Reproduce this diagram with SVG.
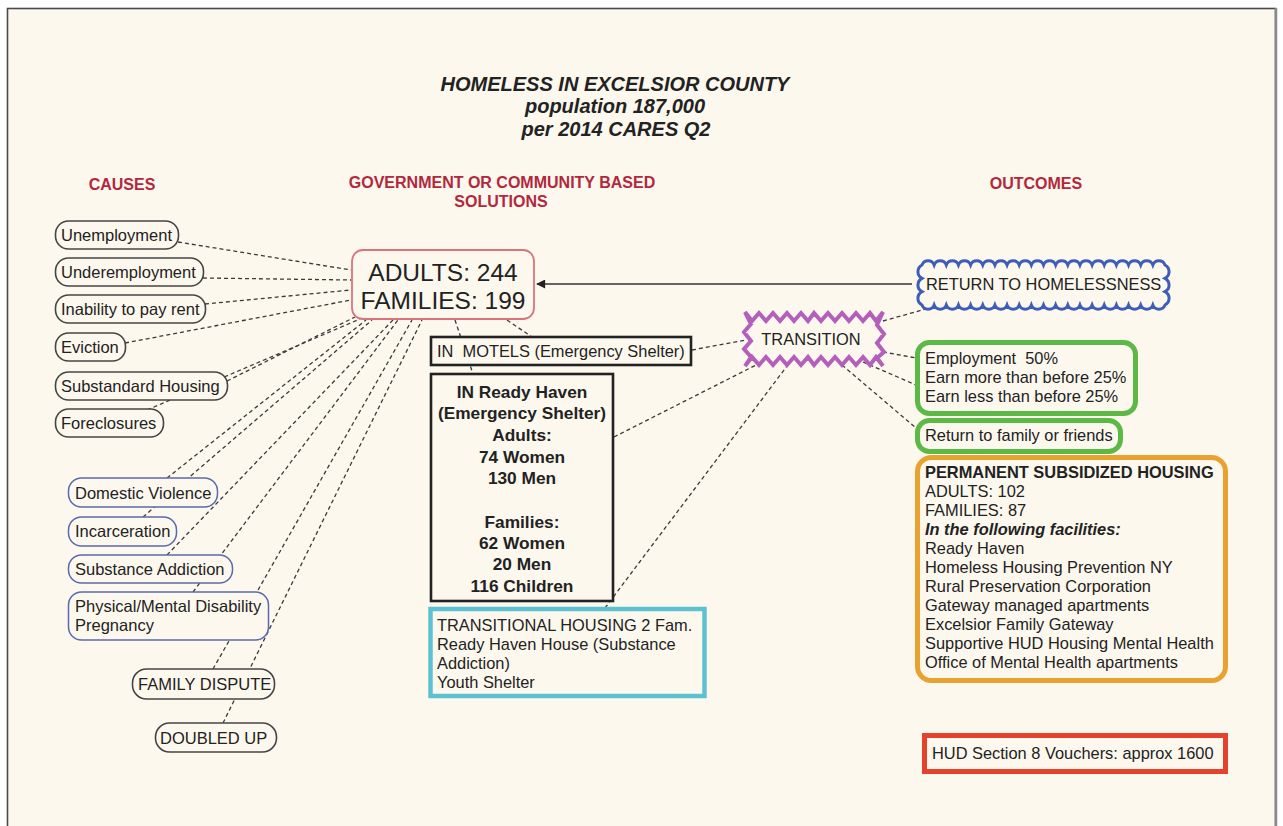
<svg xmlns="http://www.w3.org/2000/svg" width="1283" height="826" viewBox="0 0 1283 826">
  <style>
    text { font-family: "Liberation Sans", Arial, sans-serif; fill: #222; white-space: pre; }
    .title { font-size: 20px; font-weight: bold; font-style: italic; text-anchor: middle; }
    .head { font-size: 16px; font-weight: bold; fill: #b3273d; text-anchor: middle; }
    .cause { font-size: 16.5px; }
    .body { font-size: 16.4px; }
    .bold { font-weight: bold; }
    .mid { text-anchor: middle; }
    .pill { fill: #fdf8ee; stroke: #454545; stroke-width: 1.6; }
    .pill-blue { fill: #fdf8ee; stroke: #5a6aae; stroke-width: 1.5; }
    .blk { fill: #fdf8ee; stroke: #222; stroke-width: 2.6; }
    .dash { fill: none; stroke: #3a3a3a; stroke-width: 1.3; stroke-dasharray: 4 3; }
  </style>
  <defs>
    <marker id="arrow" viewBox="0 0 10 10" refX="9" refY="5" markerWidth="11" markerHeight="9" markerUnits="userSpaceOnUse" orient="auto">
      <path d="M0,0 L10,5 L0,10 z" fill="#222"/>
    </marker>
  </defs>

  <!-- page -->
  <rect x="0" y="0" width="1283" height="826" fill="#ffffff"/>
  <rect x="7.5" y="8.5" width="1268" height="840" fill="#fdf8ee" stroke="#4a4a4a" stroke-width="1.6"/>
  <line x1="1276" y1="8" x2="1276" y2="826" stroke="#8a8a8a" stroke-width="2.5"/>

  <!-- headings -->
  <g id="title">
    <text class="title" x="615" y="91">HOMELESS IN EXCELSIOR COUNTY</text>
    <text class="title" x="615" y="113">population 187,000</text>
    <text class="title" x="616" y="136">per 2014 CARES Q2</text>
  </g>
  <g id="headings">
    <text class="head" x="122" y="190">CAUSES</text>
    <text class="head" x="502" y="188">GOVERNMENT OR COMMUNITY BASED</text>
    <text class="head" x="501" y="207">SOLUTIONS</text>
    <text class="head" x="1036" y="189">OUTCOMES</text>
  </g>

  <!-- connectors -->
  <g id="connectors">
    <path class="dash" d="M178,242 L351,270"/>
    <path class="dash" d="M203,278 L351,280"/>
    <path class="dash" d="M205,304 L351,290"/>
    <path class="dash" d="M125,343 L351,300"/>
    <path class="dash" d="M227,381 L355,317"/>
    <path class="dash" d="M147,410 L360,319"/>
    <path class="dash" d="M167,478 L366,320"/>
    <path class="dash" d="M143,517 L372,320"/>
    <path class="dash" d="M167,555 L393,320"/>
    <path class="dash" d="M193,592 L398,320"/>
    <path class="dash" d="M213,669 L412,320"/>
    <path class="dash" d="M223,723 L422,320"/>
    <path class="dash" d="M455,320 L473,374"/>
    <path class="dash" d="M507,320 L532,337"/>
    <path class="dash" d="M692,350 L746,340"/>
    <path class="dash" d="M614,437 L760,363"/>
    <path class="dash" d="M605,608 L790,362"/>
    <path class="dash" d="M883,321 L933,307"/>
    <path class="dash" d="M883,352 L916,358"/>
    <path class="dash" d="M863,362 L916,385"/>
    <path class="dash" d="M842,365 L916,428"/>
    <path d="M912,284 L537,284" fill="none" stroke="#333" stroke-width="1.5" marker-end="url(#arrow)"/>
  </g>

  <!-- causes -->
  <g id="n-unemployment">
    <rect class="pill" x="55.5" y="221" width="123" height="28" rx="13"/>
    <text class="cause" x="61" y="241">Unemployment</text>
  </g>
  <g id="n-underemployment">
    <rect class="pill" x="55.5" y="258" width="148" height="28" rx="13"/>
    <text class="cause" x="61" y="278">Underemployment</text>
  </g>
  <g id="n-inability">
    <rect class="pill" x="55.5" y="295" width="150" height="28" rx="13"/>
    <text class="cause" x="61" y="315">Inability to pay rent</text>
  </g>
  <g id="n-eviction">
    <rect class="pill" x="55.5" y="333" width="70" height="28" rx="13"/>
    <text class="cause" x="61" y="353">Eviction</text>
  </g>
  <g id="n-substandard">
    <rect class="pill" x="55.5" y="372" width="172" height="28" rx="13"/>
    <text class="cause" x="61" y="392">Substandard Housing</text>
  </g>
  <g id="n-foreclosures">
    <rect class="pill" x="55.5" y="409" width="108" height="28" rx="13"/>
    <text class="cause" x="61" y="429">Foreclosures</text>
  </g>
  <g id="n-domestic">
    <rect class="pill-blue" x="68.5" y="478" width="149" height="29" rx="13"/>
    <text class="cause" x="75" y="499">Domestic Violence</text>
  </g>
  <g id="n-incarceration">
    <rect class="pill-blue" x="68.5" y="517" width="108" height="29" rx="13"/>
    <text class="cause" x="75" y="537">Incarceration</text>
  </g>
  <g id="n-substance">
    <rect class="pill-blue" x="68.5" y="555" width="164" height="28" rx="13"/>
    <text class="cause" x="75" y="575">Substance Addiction</text>
  </g>
  <g id="n-disability">
    <rect class="pill-blue" x="68.5" y="592" width="200" height="48" rx="13"/>
    <text class="cause" x="75" y="612">Physical/Mental Disability</text>
    <text class="cause" x="75" y="631">Pregnancy</text>
  </g>
  <g id="n-family-dispute">
    <rect class="pill" x="132.5" y="669" width="142" height="30" rx="14"/>
    <text class="cause" x="138" y="690">FAMILY DISPUTE</text>
  </g>
  <g id="n-doubled-up">
    <rect class="pill" x="155.5" y="723" width="121" height="29" rx="14"/>
    <text class="cause" x="160" y="744">DOUBLED UP</text>
  </g>

  <!-- solutions -->
  <g id="n-totals">
    <rect x="352" y="250" width="182" height="69" rx="11" fill="#fdf8ee" stroke="#d9747c" stroke-width="1.8"/>
    <text class="mid" x="443" y="281" font-size="24.5">ADULTS: 244</text>
    <text class="mid" x="443" y="309" font-size="24.5">FAMILIES: 199</text>
  </g>
  <g id="n-motels">
    <rect class="blk" x="431" y="337" width="260" height="28"/>
    <text class="body" x="437" y="357">IN  MOTELS (Emergency Shelter)</text>
  </g>
  <g id="n-ready-haven">
    <rect class="blk" x="431" y="374" width="182" height="227"/>
    <g class="bold mid" font-size="17.3px">
      <text x="522" y="398">IN Ready Haven</text>
      <text x="522" y="419">(Emergency Shelter)</text>
      <text x="522" y="441">Adults:</text>
      <text x="522" y="463">74 Women</text>
      <text x="522" y="484">130 Men</text>
      <text x="522" y="528">Families:</text>
      <text x="522" y="549">62 Women</text>
      <text x="522" y="570">20 Men</text>
      <text x="522" y="592">116 Children</text>
    </g>
  </g>
  <g id="n-transitional">
    <rect x="430.5" y="609" width="274" height="87" fill="#fdf8ee" stroke="#5cc2d2" stroke-width="4.5"/>
    <text class="body" x="437" y="631">TRANSITIONAL HOUSING 2 Fam.</text>
    <text class="body" x="437" y="650">Ready Haven House (Substance</text>
    <text class="body" x="437" y="669">Addiction)</text>
    <text class="body" x="437" y="688">Youth Shelter</text>
  </g>

  <!-- outcomes -->
  <g id="n-transition">
    <path d="M745,312 L752,321 L759,313 L766,321 L773,313 L780,321 L787,313 L794,321 L801,313 L808,321 L814,313 L821,321 L828,313 L835,321 L842,313 L849,321 L856,313 L863,321 L870,313 L876,321 L883,312 L877,325 L884,334 L877,343 L884,352 L877,358 L883,366 L876,357 L870,365 L863,357 L856,365 L849,357 L842,365 L835,357 L828,365 L821,357 L814,365 L808,357 L801,365 L794,357 L787,365 L780,357 L773,365 L766,357 L759,365 L752,357 L745,366 L751,357 L744,349 L751,341 L744,332 L751,324 Z" fill="#fdf8ee" stroke="#b45fba" stroke-width="4" stroke-linejoin="miter"/>
    <text class="body mid" x="811" y="345">TRANSITION</text>
  </g>
  <g id="n-return">
    <path d="M922,265 a6.5,6.5 0 0 1 12.15,0 a6.5,6.5 0 0 1 12.15,0 a6.5,6.5 0 0 1 12.15,0 a6.5,6.5 0 0 1 12.15,0 a6.5,6.5 0 0 1 12.15,0 a6.5,6.5 0 0 1 12.15,0 a6.5,6.5 0 0 1 12.15,0 a6.5,6.5 0 0 1 12.15,0 a6.5,6.5 0 0 1 12.15,0 a6.5,6.5 0 0 1 12.15,0 a6.5,6.5 0 0 1 12.15,0 a6.5,6.5 0 0 1 12.15,0 a6.5,6.5 0 0 1 12.15,0 a6.5,6.5 0 0 1 12.15,0 a6.5,6.5 0 0 1 12.15,0 a6.5,6.5 0 0 1 12.15,0 a6.5,6.5 0 0 1 12.15,0 a6.5,6.5 0 0 1 12.15,0 a6.5,6.5 0 0 1 12.15,0 a6.5,6.5 0 0 1 12.15,0 a7.5,7.5 0 0 1 0,13.33 a7.5,7.5 0 0 1 0,13.33 a7.5,7.5 0 0 1 0,13.34 a6.5,6.5 0 0 1 -12.15,0 a6.5,6.5 0 0 1 -12.15,0 a6.5,6.5 0 0 1 -12.15,0 a6.5,6.5 0 0 1 -12.15,0 a6.5,6.5 0 0 1 -12.15,0 a6.5,6.5 0 0 1 -12.15,0 a6.5,6.5 0 0 1 -12.15,0 a6.5,6.5 0 0 1 -12.15,0 a6.5,6.5 0 0 1 -12.15,0 a6.5,6.5 0 0 1 -12.15,0 a6.5,6.5 0 0 1 -12.15,0 a6.5,6.5 0 0 1 -12.15,0 a6.5,6.5 0 0 1 -12.15,0 a6.5,6.5 0 0 1 -12.15,0 a6.5,6.5 0 0 1 -12.15,0 a6.5,6.5 0 0 1 -12.15,0 a6.5,6.5 0 0 1 -12.15,0 a6.5,6.5 0 0 1 -12.15,0 a6.5,6.5 0 0 1 -12.15,0 a6.5,6.5 0 0 1 -12.15,0 a7.5,7.5 0 0 1 0,-13.34 a7.5,7.5 0 0 1 0,-13.33 a7.5,7.5 0 0 1 0,-13.33 Z" fill="#fdf8ee" stroke="#3d5db8" stroke-width="3"/>
    <text class="body" x="926" y="290">RETURN TO HOMELESSNESS</text>
  </g>
  <g id="n-employment">
    <rect x="917.5" y="342.5" width="218" height="71" rx="12" fill="#fdf8ee" stroke="#5cb946" stroke-width="5"/>
    <text class="body" x="925" y="364">Employment  50%</text>
    <text class="body" x="925" y="383">Earn more than before 25%</text>
    <text class="body" x="925" y="402">Earn less than before 25%</text>
  </g>
  <g id="n-family-return">
    <rect x="917.5" y="420.5" width="203" height="31" rx="12" fill="#fdf8ee" stroke="#5cb946" stroke-width="5"/>
    <text class="body" x="925" y="441">Return to family or friends</text>
  </g>
  <g id="n-permanent">
    <rect x="917.5" y="457.5" width="308" height="223" rx="14" fill="#fdf8ee" stroke="#e9a22f" stroke-width="5"/>
    <text class="body bold" x="925" y="478">PERMANENT SUBSIDIZED HOUSING</text>
    <text class="body" x="925" y="497">ADULTS: 102</text>
    <text class="body" x="925" y="516">FAMILIES: 87</text>
    <text class="body bold" x="925" y="535" font-style="italic">In the following facilities:</text>
    <text class="body" x="925" y="554">Ready Haven</text>
    <text class="body" x="925" y="573">Homeless Housing Prevention NY</text>
    <text class="body" x="925" y="592">Rural Preservation Corporation</text>
    <text class="body" x="925" y="611">Gateway managed apartments</text>
    <text class="body" x="925" y="630">Excelsior Family Gateway</text>
    <text class="body" x="925" y="649">Supportive HUD Housing Mental Health</text>
    <text class="body" x="925" y="668">Office of Mental Health apartments</text>
  </g>
  <g id="n-vouchers">
    <rect x="924.5" y="735.5" width="301" height="36" fill="#fdf8ee" stroke="#e5412c" stroke-width="5"/>
    <text class="body" x="932" y="759">HUD Section 8 Vouchers: approx 1600</text>
  </g>
</svg>
